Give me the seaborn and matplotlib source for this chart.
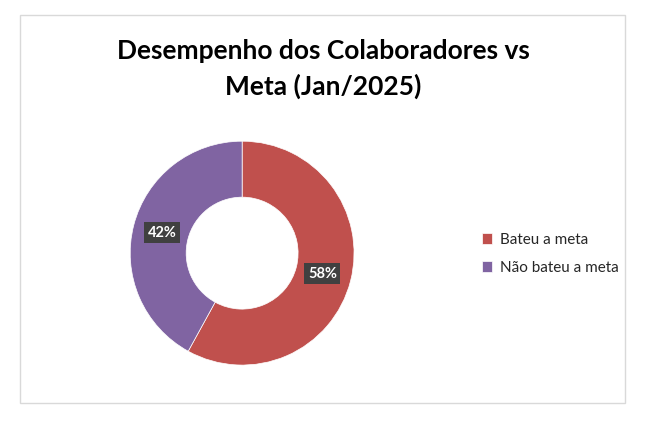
import matplotlib.pyplot as plt
import seaborn as sns
from matplotlib.patches import Rectangle

categories = ["Bateu a meta", "Não bateu a meta"]
shares = [58, 42]
colors = ["#C0504D", "#8064A2"]

sns.set_style("white")
plt.rcParams["font.family"] = "Lato"

fig = plt.figure(figsize=(6.5, 4.24), dpi=100)
fig.patches.append(Rectangle((20 / 650, 1 - 403 / 424), 605 / 650, 388 / 424,
                             transform=fig.transFigure, fill=False,
                             edgecolor="#D9D9D9", linewidth=1))

fig.text(323 / 650, 1 - 69 / 424, "Desempenho dos Colaboradores vs\nMeta (Jan/2025)",
         ha="center", va="center", fontsize=19, fontweight="bold",
         linespacing=1.55, color="black")

ax = fig.add_axes([0.2, 0.139, 0.345, 0.528])
wedges, texts, autotexts = ax.pie(
    shares, colors=colors, startangle=90, counterclock=False,
    autopct="%d%%", pctdistance=0.74,
    wedgeprops=dict(width=0.5, edgecolor="white", linewidth=0.5))
for t in autotexts:
    t.set_color("white")
    t.set_fontweight("bold")
    t.set_fontsize(10.5)
    t.set_bbox(dict(facecolor="#404040", edgecolor="none", pad=2.5))
ax.set_xlim(-1, 1)
ax.set_ylim(-1, 1)
ax.set_aspect("equal")

fig.legend(wedges, categories, loc="center left",
           bbox_to_anchor=(468 / 650, 1 - 254 / 424), frameon=False,
           fontsize=11, handlelength=0.7, handleheight=0.7,
           handletextpad=0.5, labelspacing=0.9)

plt.savefig("out.png", dpi=100)
